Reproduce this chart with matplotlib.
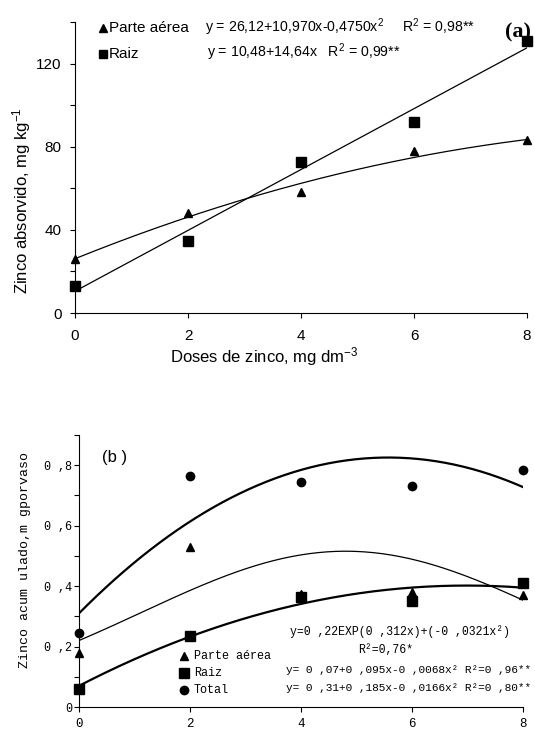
import matplotlib
matplotlib.use("Agg")
import matplotlib.pyplot as plt
import numpy as np

plt.rcParams["font.family"] = ["Liberation Sans", "DejaVu Sans"]
plt.rcParams["mathtext.fontset"] = "custom"
plt.rcParams["mathtext.rm"] = "Liberation Sans"
plt.rcParams["mathtext.it"] = "Liberation Sans:italic"

doses = [0, 2, 4, 6, 8]

# (a) zinco absorvido, mg/kg
abs_parte = [26, 48, 58, 78, 83]
abs_raiz = [13, 34.5, 72.5, 92, 131]
fit_abs_parte = [26.12, 10.970, -0.4750]   # c0, c1, c2
fit_abs_raiz = [10.48, 14.64]

# (b) zinco acumulado, mg por vaso
acc_parte = [0.18, 0.53, 0.375, 0.38, 0.37]
acc_raiz = [0.06, 0.235, 0.365, 0.35, 0.41]
acc_total = [0.245, 0.765, 0.745, 0.73, 0.785]
curve_acc_parte = [0.22, 0.3545, -0.0369]  # a*exp(b x + c x^2), as drawn
fit_acc_raiz = [0.07, 0.095, -0.0068]
fit_acc_total = [0.31, 0.185, -0.0166]

xs = np.linspace(0, 8, 200)
mono = "Liberation Mono"

fig = plt.figure(figsize=(5.35, 7.32), dpi=100)

# ---------- (a) ----------
ax = fig.add_axes([0.1402, 0.5724, 0.8449, 0.3975])
ax.plot(xs, fit_abs_parte[0] + fit_abs_parte[1] * xs + fit_abs_parte[2] * xs**2, c="k", lw=0.9)
ax.plot(xs, fit_abs_raiz[0] + fit_abs_raiz[1] * xs, c="k", lw=0.9)
ax.plot(doses, abs_parte, "k^", ms=6, clip_on=False)
ax.plot(doses, abs_raiz, "ks", ms=7.5, clip_on=False)
ax.set_xlim(0, 8)
ax.set_ylim(0, 140)
ax.set_xticks(doses)
ax.set_yticks([0, 40, 80, 120])
ax.set_yticks([20, 60, 100, 140], minor=True)
ax.tick_params(direction="out", length=3.6, width=0.8, labelsize=11)
ax.tick_params(which="minor", direction="out", length=3.6, width=0.8)
ax.tick_params(axis="x", pad=8)
ax.tick_params(axis="y", pad=6)
for s in ("top", "right"):
    ax.spines[s].set_visible(False)
ax.set_ylabel("Zinco absorvido, mg kg$^{-1}$", fontsize=12)
ax.yaxis.set_label_coords(-0.093, 0.385)
ax.set_xlabel("Doses de zinco, mg dm$^{-3}$", fontsize=12)
ax.xaxis.set_label_coords(0.418, -0.112)

ax.plot([0.50], [137.3], "k^", ms=5.5, clip_on=False)
ax.plot([0.50], [124.8], "ks", ms=6, clip_on=False)
ax.text(0.60, 137.3, "Parte aérea", fontsize=11, va="center")
ax.text(0.60, 124.8, "Raiz", fontsize=11, va="center")
ax.text(2.30, 137.3, "y = 26,12+10,970x-0,4750x$^2$     R$^2$ = 0,98**", fontsize=10.2, va="center")
ax.text(2.34, 125.5, "y = 10,48+14,64x   R$^2$ = 0,99**", fontsize=10.2, va="center")
ax.text(7.61, 135, "(a)", fontsize=16, fontweight="bold", family="Liberation Serif", va="center")

# ---------- (b) ----------
bx = fig.add_axes([0.1477, 0.03415, 0.8299, 0.3716])
bx.plot(xs, fit_acc_total[0] + fit_acc_total[1] * xs + fit_acc_total[2] * xs**2, c="k", lw=1.6)
bx.plot(xs, curve_acc_parte[0] * np.exp(curve_acc_parte[1] * xs + curve_acc_parte[2] * xs**2), c="k", lw=0.9)
bx.plot(xs, fit_acc_raiz[0] + fit_acc_raiz[1] * xs + fit_acc_raiz[2] * xs**2, c="k", lw=1.6)
bx.plot(doses, acc_parte, "k^", ms=5.5, clip_on=False)
bx.plot(doses, acc_raiz, "ks", ms=6.5, clip_on=False)
bx.plot(doses, acc_total, "ko", ms=6, clip_on=False)
bx.set_xlim(0, 8)
bx.set_ylim(0, 0.9)
bx.set_xticks(doses)
bx.set_xticklabels([str(d) for d in doses], family=mono, fontsize=9)
bx.set_yticks([0, 0.2, 0.4, 0.6, 0.8])
bx.set_yticklabels(["0", "0 ,2", "0 ,4", "0 ,6", "0 ,8"], family=mono, fontsize=8.5)
bx.set_yticks([0.1, 0.3, 0.5, 0.7, 0.9], minor=True)
bx.tick_params(direction="out", length=3.6, width=0.8)
bx.tick_params(which="minor", direction="out", length=3.6, width=0.8)
bx.tick_params(axis="x", pad=4)
bx.tick_params(axis="y", pad=1.5)
for s in ("top", "right"):
    bx.spines[s].set_visible(False)
bx.set_ylabel("Zinco acum ulado,m gporvaso", family=mono, fontsize=9.5)
bx.yaxis.set_label_coords(-0.108, 0.54)

bx.text(0.41, 0.826, "(b )", fontsize=12, va="center")
leg = [("^", 5.5, 0.169, "Parte aérea"), ("s", 6.5, 0.112, "Raiz"), ("o", 6, 0.056, "Total")]
for m, size, yy, lab in leg:
    bx.plot([1.89], [yy], "k" + m, ms=size, clip_on=False)
    bx.text(2.07, yy, lab, family=mono, fontsize=8.5, va="center")
bx.text(5.78, 0.248, "y=0 ,22EXP(0 ,312x)+(-0 ,0321x²)", family=mono, fontsize=8.3,
        va="center", ha="center")
bx.text(5.53, 0.188, "R²=0,76*", family=mono, fontsize=8.3, va="center", ha="center")
bx.text(3.73, 0.122, "y= 0 ,07+0 ,095x-0 ,0068x² R²=0 ,96**", family=mono, fontsize=8,
        va="center", clip_on=False)
bx.text(3.73, 0.063, "y= 0 ,31+0 ,185x-0 ,0166x² R²=0 ,80**", family=mono, fontsize=8,
        va="center", clip_on=False)

fig.savefig("out.png", dpi=100)
